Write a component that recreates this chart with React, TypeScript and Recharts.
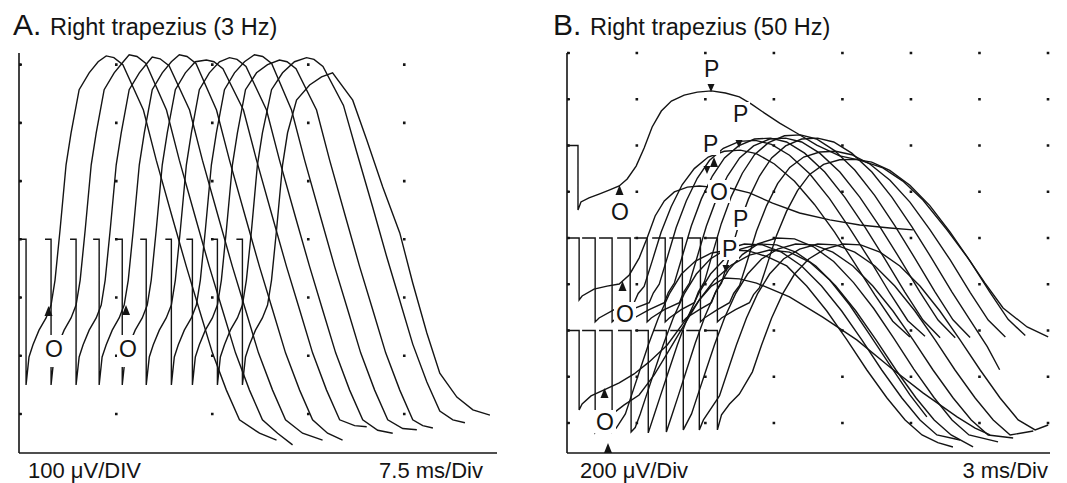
import { CartesianGrid, Line, LineChart, XAxis, YAxis } from "recharts";

type Trace = [number, number][];

// Panel A: right trapezius, 3 Hz (time in ms, amplitude in µV)
const traceA1: Trace = [[0.08,300],[0.55,300],[0.55,50],[0.78,98],[1.09,119],[1.56,144],[2.11,165],[2.5,187],[2.81,230],[3.2,316],[3.67,428],[4.06,483],[4.69,557],[5.47,586],[6.17,605],[6.8,615],[7.4,612],[8.1,600],[9.7,522],[10.7,436],[11.95,338],[13.05,253],[14.06,179],[15.08,105],[16.17,41],[17.19,-10],[18.75,-33],[20.08,-45]];
const traceA2: Trace = [[2.03,300],[2.5,300],[2.5,50],[2.73,98],[3.05,119],[3.52,144],[4.06,165],[4.45,187],[4.77,230],[5.16,316],[5.63,428],[6.02,483],[6.64,557],[7.42,586],[8.13,605],[8.59,617],[9.2,614],[9.9,602],[11.5,522],[12.5,436],[13.75,338],[14.84,253],[15.86,179],[16.88,105],[17.97,41],[18.98,-10],[20.16,-33],[21.33,-53]];
const traceA3: Trace = [[3.98,300],[4.45,300],[4.45,50],[4.69,98],[5.0,119],[5.47,144],[6.02,165],[6.41,187],[6.72,230],[7.11,316],[7.58,428],[7.97,483],[8.59,557],[9.38,586],[10.08,605],[10.39,613],[11.0,610],[11.7,598],[13.3,522],[14.3,436],[15.55,338],[16.64,253],[17.66,179],[18.67,105],[19.77,41],[20.78,-10],[22.11,-33],[23.67,-45]];
const traceA4: Trace = [[5.78,300],[6.25,300],[6.25,50],[6.48,98],[6.8,119],[7.27,144],[7.81,165],[8.2,187],[8.52,230],[8.91,316],[9.38,428],[9.77,483],[10.39,557],[11.17,586],[11.88,605],[12.5,617],[13.1,614],[13.8,602],[15.4,522],[16.41,436],[17.66,338],[18.75,253],[19.77,179],[20.78,105],[21.88,41],[22.89,-10],[24.06,-33],[25.23,-45]];
const traceA5: Trace = [[7.58,300],[8.05,300],[8.05,50],[8.28,98],[8.59,119],[9.06,144],[9.61,165],[10.0,187],[10.31,230],[10.7,316],[11.17,428],[11.56,483],[12.19,557],[12.97,586],[13.75,605],[14.61,608],[15.2,605],[15.9,593],[17.5,522],[18.52,436],[19.77,338],[20.86,253],[21.88,179],[22.89,105],[23.98,41],[25.0,-10],[26.17,-20],[27.11,-22]];
const traceA6: Trace = [[9.45,300],[9.92,300],[9.92,50],[10.16,98],[10.47,119],[10.94,144],[11.48,165],[11.88,187],[12.19,230],[12.58,316],[13.05,428],[13.44,483],[14.06,557],[14.84,586],[15.63,605],[16.41,612],[17.0,609],[17.7,597],[19.3,522],[20.31,436],[21.56,338],[22.66,253],[23.67,179],[24.69,105],[25.78,41],[26.8,-10],[27.97,-28],[29.14,-33]];
const traceA7: Trace = [[11.41,300],[11.88,300],[11.88,50],[12.11,98],[12.42,119],[12.89,144],[13.44,165],[13.83,187],[14.14,230],[14.53,316],[15.0,428],[15.39,483],[16.02,557],[16.8,586],[17.58,605],[18.36,617],[19.0,614],[19.7,602],[21.25,522],[22.27,436],[23.52,338],[24.61,253],[25.63,179],[26.64,105],[27.73,41],[28.75,-10],[29.92,-25],[31.02,-27]];
const traceA8: Trace = [[13.05,300],[13.52,300],[13.52,50],[13.75,98],[14.06,119],[14.53,144],[15.08,165],[15.47,187],[15.78,230],[16.17,316],[16.64,428],[17.03,483],[17.66,557],[18.52,586],[19.38,600],[20.31,608],[20.9,605],[21.6,593],[23.2,522],[24.22,436],[25.47,338],[26.56,253],[27.58,179],[28.59,105],[29.69,41],[30.7,-10],[31.48,-20],[32.27,-24]];
const traceA9: Trace = [[15.0,300],[15.47,300],[15.47,50],[15.7,98],[16.02,119],[16.48,144],[17.03,165],[17.42,187],[17.73,230],[18.13,316],[18.59,428],[18.98,483],[19.69,557],[20.55,586],[21.48,605],[22.42,612],[23.0,609],[23.7,597],[25.3,530],[26.33,450],[27.58,355],[28.67,270],[29.69,195],[30.7,120],[31.8,55],[32.81,5],[33.83,-10],[34.77,-15]];
const traceA10: Trace = [[16.95,300],[17.42,300],[17.42,50],[17.66,98],[17.97,119],[18.44,144],[18.98,165],[19.38,187],[19.69,230],[20.08,316],[20.55,428],[20.94,483],[21.64,539],[22.66,565],[23.59,579],[24.45,586],[26.02,539],[27.11,471],[28.36,390],[29.69,311],[30.7,225],[31.8,139],[32.81,70],[34.14,29],[35.39,7],[36.72,-2]];

// Panel B: right trapezius, 50 Hz – first sweep of each row
const traceB1: Trace = [[0,1200],[0.48,1200],[0.48,921],[0.61,956],[0.96,973],[1.4,990],[1.84,1007],[2.28,1025],[2.63,1055],[3.02,1111],[3.37,1189],[3.72,1280],[4.12,1349],[4.56,1392],[5.12,1418],[5.69,1431],[6.31,1436],[6.92,1427],[7.53,1410],[8.06,1379],[8.63,1340],[9.29,1297],[10.03,1254],[10.91,1202],[11.91,1155],[12.79,1137],[13.8,1103],[14.67,1046],[15.55,964],[16.6,835],[17.48,718],[18.26,605],[19.05,497],[20.1,415],[21.02,372]];
const traceB2: Trace = [[0,800],[0.53,800],[0.53,532],[0.66,549],[1.18,579],[1.75,592],[2.28,601],[2.72,640],[3.15,713],[3.5,800],[3.85,895],[4.25,960],[4.69,999],[5.26,1020],[5.78,1025],[6.31,1020],[7.1,1016],[7.97,995],[8.98,951],[10.16,908],[11.48,878],[12.79,856],[14.1,843],[15.11,835]];
const traceB3: Trace = [[0,400],[0.53,400],[0.53,56],[0.66,82],[1.05,117],[1.62,143],[2.28,173],[2.93,212],[3.59,264],[4.38,337],[5.12,437],[5.78,532],[6.31,592],[6.88,627],[7.53,623],[8.28,605],[9.72,545],[11.17,458],[12.66,359],[14.1,242],[15.55,130],[17.04,26],[17.83,-22],[18.48,-52]];

// Panel B: middle row sweeps
const traceM1: Trace = [[0.66,800],[1.23,800],[1.23,437],[1.4,454],[2.06,490],[2.93,520],[3.11,560],[3.37,590],[3.72,700],[4.11,825],[4.55,935],[5.03,1030],[5.56,1100],[6.17,1150],[6.87,1175],[7.57,1180],[8.27,1165],[9.06,1120],[9.94,1045],[10.81,945],[11.69,825],[12.57,690],[13.44,555],[14.23,440],[14.98,372]];
const traceM2: Trace = [[1.4,800],[1.97,800],[1.97,437],[2.15,454],[2.8,490],[3.59,520],[3.77,562],[4.03,600],[4.38,715],[4.77,845],[5.21,960],[5.69,1058],[6.22,1135],[6.83,1188],[7.53,1218],[8.23,1222],[8.93,1205],[9.72,1158],[10.6,1078],[11.47,970],[12.35,842],[13.23,705],[14.1,562],[14.89,442],[15.64,375]];
const traceM3: Trace = [[2.19,800],[2.76,800],[2.76,437],[2.93,454],[3.59,490],[4.25,520],[4.43,565],[4.69,605],[5.04,722],[5.43,852],[5.87,969],[6.35,1068],[6.88,1146],[7.49,1198],[8.19,1228],[8.89,1232],[9.59,1215],[10.38,1167],[11.26,1085],[12.13,977],[13.01,848],[13.89,709],[14.76,566],[15.55,445],[16.3,368]];
const traceM4: Trace = [[2.93,800],[3.5,800],[3.5,437],[3.68,454],[4.25,490],[4.91,520],[5.09,565],[5.35,605],[5.7,722],[6.09,852],[6.53,969],[7.01,1068],[7.54,1146],[8.15,1198],[8.85,1228],[9.55,1232],[10.25,1215],[11.04,1167],[11.92,1085],[12.79,977],[13.67,848],[14.55,709],[15.42,566],[16.21,445],[16.96,368]];
const traceM5: Trace = [[3.72,800],[4.29,800],[4.29,437],[4.47,454],[4.99,490],[5.56,520],[5.74,567],[6.0,610],[6.35,730],[6.74,862],[7.18,980],[7.66,1080],[8.19,1160],[8.8,1212],[9.5,1242],[10.2,1246],[10.9,1228],[11.69,1178],[12.57,1094],[13.44,984],[14.32,853],[15.2,712],[16.07,568],[16.86,446],[17.61,370]];
const traceM6: Trace = [[4.47,800],[5.04,800],[5.04,437],[5.21,454],[5.78,490],[6.31,520],[6.49,565],[6.75,605],[7.1,722],[7.49,852],[7.93,969],[8.41,1068],[8.94,1146],[9.55,1198],[10.25,1228],[10.95,1232],[11.65,1215],[12.44,1167],[13.32,1085],[14.19,977],[15.07,848],[15.95,709],[16.82,566],[17.61,445],[18.36,330],[18.9,230]];
const traceM7: Trace = [[5.26,800],[5.83,800],[5.83,437],[6.0,454],[6.57,490],[7.1,520],[7.28,560],[7.54,595],[7.89,705],[8.28,830],[8.72,940],[9.2,1035],[9.73,1105],[10.34,1150],[11.04,1172],[11.74,1175],[12.44,1160],[13.23,1120],[14.11,1050],[14.98,955],[15.86,835],[16.74,705],[17.61,565],[18.4,445],[19.15,372]];
const traceM8: Trace = [[6.0,800],[6.57,800],[6.57,437],[6.75,454],[7.36,490],[7.97,520],[8.15,555],[8.41,585],[8.76,690],[9.15,810],[9.59,915],[10.07,1005],[10.6,1075],[11.21,1118],[11.91,1138],[12.61,1140],[13.31,1128],[14.1,1092],[14.98,1028],[15.85,940],[16.73,826],[17.61,700],[18.48,565],[19.27,448],[20.02,378]];

// Panel B: bottom row sweeps
const traceL1: Trace = [[0.66,400],[1.23,400],[1.23,-39],[1.4,-9],[1.93,35],[2.5,78],[3.15,121],[3.81,208],[4.47,316],[5.12,424],[5.78,532],[6.44,618],[7.18,683],[7.97,726],[8.85,748],[9.72,739],[10.6,696],[11.48,618],[12.35,510],[13.23,381],[14.1,251],[14.98,121],[15.72,26]];
const traceL2: Trace = [[1.4,400],[1.97,400],[1.97,-39],[2.15,-22],[2.55,39],[2.81,117],[3.16,221],[3.55,337],[3.99,454],[4.47,558],[5.0,644],[5.61,700],[6.31,735],[7.1,748],[7.89,745],[8.72,720],[9.6,679],[10.47,592],[11.35,484],[12.23,359],[13.1,229],[13.98,108],[14.77,13],[15.51,-52],[16.2,-85],[16.86,-104]];
const traceL3: Trace = [[2.23,400],[2.8,400],[2.8,-39],[2.98,-20],[3.2,39],[3.46,117],[3.81,221],[4.2,337],[4.64,454],[5.12,558],[5.65,644],[6.26,709],[6.96,752],[7.75,774],[8.54,770],[9.37,739],[10.25,679],[11.12,592],[12.0,484],[12.88,359],[13.75,229],[14.63,108],[15.42,13],[16.16,-52],[17.17,-74]];
const traceL4: Trace = [[2.98,400],[3.55,400],[3.55,-43],[3.82,39],[4.08,117],[4.43,221],[4.82,337],[5.26,454],[5.74,558],[6.27,644],[6.88,709],[7.58,752],[8.37,774],[9.16,770],[9.99,739],[10.87,679],[11.74,592],[12.62,484],[13.5,359],[14.37,229],[15.25,108],[16.04,13],[16.78,-52],[17.74,-104]];
const traceL5: Trace = [[3.77,400],[4.34,400],[4.34,-39],[4.6,39],[4.86,117],[5.21,225],[5.6,345],[6.04,465],[6.52,572],[7.05,660],[7.66,728],[8.36,775],[9.15,800],[9.94,796],[10.77,762],[11.65,698],[12.52,607],[13.4,495],[14.28,366],[15.15,233],[16.03,110],[16.82,13],[17.56,-52],[18.83,-82]];
const traceL6: Trace = [[4.51,400],[5.08,400],[5.08,-30],[5.44,39],[5.7,117],[6.05,221],[6.44,337],[6.88,454],[7.36,558],[7.89,644],[8.5,709],[9.2,752],[9.99,774],[10.78,770],[11.61,739],[12.49,679],[13.36,592],[14.24,484],[15.12,359],[15.99,229],[16.87,108],[17.66,13],[18.4,-52],[19.49,-65]];
const traceL7: Trace = [[5.21,400],[5.78,400],[5.78,-30],[5.96,13],[6.66,117],[7.01,221],[7.4,337],[7.84,454],[8.32,558],[8.85,644],[9.46,709],[10.16,752],[10.95,774],[11.74,770],[12.57,739],[13.45,679],[14.32,592],[15.2,484],[16.08,359],[16.95,229],[17.83,108],[18.62,13],[19.36,-52],[20.37,-35]];
const traceL8: Trace = [[6.0,400],[6.57,400],[6.57,-30],[6.75,35],[7.1,82],[7.53,125],[8.1,221],[8.5,337],[8.94,454],[9.42,558],[9.94,644],[10.56,709],[11.26,752],[12.05,774],[12.83,770],[13.67,739],[14.54,679],[15.42,592],[16.29,484],[17.17,359],[18.05,229],[18.92,108],[19.71,13],[20.45,-30],[21.02,-9]];

const panelATraces = [traceA1, traceA2, traceA3, traceA4, traceA5, traceA6, traceA7, traceA8, traceA9, traceA10];
const panelBTraces = [
  traceB1, traceB2, traceB3,
  traceM1, traceM2, traceM3, traceM4, traceM5, traceM6, traceM7, traceM8,
  traceL1, traceL2, traceL3, traceL4, traceL5, traceL6, traceL7, traceL8,
];

const aVoltTicks = [0, 100, 200, 300, 400, 500, 600];
const bVoltTicks = [0, 200, 400, 600, 800, 1000, 1200, 1400, 1600];

const INK = "#141414";
const FONT = "'Liberation Sans', Arial, Helvetica, sans-serif";

const toPoints = (tr: Trace) => tr.map(([t, v]) => ({ t, v }));
const NoLabel = () => <g />;

interface PanelProps {
  traces: Trace[];
  width: number;
  margin: { top: number; right: number; bottom: number; left: number };
  xMax: number;
  yDomain: [number, number];
  yTicks: number[];
  dotGap: string;
}

function TracePanel({ traces, width, margin, xMax, yDomain, yTicks, dotGap }: PanelProps) {
  return (
    <LineChart width={width} height={483} margin={margin}>
      <CartesianGrid
        vertical={false}
        horizontalValues={yTicks}
        stroke={INK}
        strokeWidth={2.6}
        strokeDasharray={dotGap}
      />
      <XAxis
        type="number"
        dataKey="t"
        domain={[0, xMax]}
        allowDataOverflow
        height={1}
        tick={false}
        tickLine={false}
        axisLine={{ stroke: INK, strokeWidth: 1.6 }}
      />
      <YAxis
        type="number"
        domain={yDomain}
        ticks={yTicks}
        interval={0}
        allowDataOverflow
        width={1}
        mirror
        tick={NoLabel}
        tickSize={3}
        tickLine={{ stroke: INK, strokeWidth: 1.6 }}
        axisLine={{ stroke: INK, strokeWidth: 1.6 }}
      />
      {traces.map((tr, i) => (
        <Line
          key={i}
          data={toPoints(tr)}
          dataKey="v"
          type="linear"
          stroke={INK}
          strokeWidth={1.4}
          dot={false}
          activeDot={false}
          isAnimationActive={false}
        />
      ))}
    </LineChart>
  );
}

function Mark({ ch, x, y, w, box = 20 }: { ch: string; x: number; y: number; w: number; box?: number }) {
  return (
    <g>
      <rect x={x - 2} y={y - box} width={w + 4} height={box + 3} fill="#fff" />
      <text x={x} y={y} fontSize={23} fontFamily={FONT} fill={INK}>
        {ch}
      </text>
    </g>
  );
}

const up = (x: number, y: number) => `${x - 4},${y + 5} ${x + 4},${y + 5} ${x},${y - 5}`;
const down = (x: number, y: number) => `${x - 3.5},${y - 4} ${x + 3.5},${y - 4} ${x},${y + 4}`;

export default function App() {
  return (
    <div style={{ position: "absolute", left: 0, top: 0, width: 1067, height: 483, background: "#fff", overflow: "hidden" }}>
      <div style={{ position: "absolute", left: 0, top: 0 }}>
        <TracePanel
          traces={panelATraces}
          width={540}
          margin={{ top: 53, right: 43, bottom: 29, left: 19 }}
          xMax={37.27}
          yDomain={[-67, 620]}
          yTicks={aVoltTicks}
          dotGap="2.6 93.39"
        />
      </div>
      <div style={{ position: "absolute", left: 540, top: 0 }}>
        <TracePanel
          traces={panelBTraces}
          width={527}
          margin={{ top: 53, right: 17, bottom: 29, left: 27 }}
          xMax={21.1}
          yDomain={[-130, 1600]}
          yTicks={bVoltTicks}
          dotGap="2.6 65.93"
        />
      </div>
      <svg width={1067} height={483} style={{ position: "absolute", left: 0, top: 0, pointerEvents: "none" }}>
        <g fontFamily={FONT} fill={INK}>
          <text x={13} y={35} fontSize={30}>A.</text>
          <text x={50} y={35} fontSize={23.5}>Right trapezius (3 Hz)</text>
          <text x={28} y={478} fontSize={22}>100 μV/DIV</text>
          <text x={483} y={478} fontSize={22} textAnchor="end">7.5 ms/Div</text>
          <text x={553} y={35} fontSize={30}>B.</text>
          <text x={590} y={35} fontSize={23.5}>Right trapezius (50 Hz)</text>
          <text x={580} y={478} fontSize={22}>200 μV/Div</text>
          <text x={1048} y={478} fontSize={22} textAnchor="end">3 ms/Div</text>
        </g>

        <Mark ch="O" x={45} y={357} w={18} box={22} />
        <rect x={43} y={357} width={22} height={10} fill="#fff" />
        <Mark ch="O" x={119} y={357} w={18} box={22} />
        <rect x={117} y={357} width={22} height={10} fill="#fff" />
        <polygon points={up(48.5, 311)} fill={INK} />
        <polygon points={up(126, 310)} fill={INK} />

        <Mark ch="P" x={704} y={77} w={15} />
        <polygon points={down(711, 88)} fill={INK} />
        <Mark ch="P" x={733} y={122} w={15} />
        <polygon points={down(739, 144)} fill={INK} />
        <Mark ch="P" x={703} y={152} w={15} />
        <polygon points={up(714, 162)} fill={INK} />
        <polygon points={down(707, 170)} fill={INK} />
        <Mark ch="O" x={710} y={200} w={18} />
        <Mark ch="O" x={611} y={220} w={18} />
        <polygon points={up(619.5, 190)} fill={INK} />
        <Mark ch="P" x={733} y={227} w={15} />
        <Mark ch="P" x={722} y={257} w={15} />
        <polygon points={down(726, 269)} fill={INK} />
        <Mark ch="O" x={616} y={322} w={18} />
        <polygon points={up(622.5, 286)} fill={INK} />
        <Mark ch="O" x={596} y={430} w={18} />
        <polygon points={up(604.5, 393)} fill={INK} />
        <polygon points={up(608, 448)} fill={INK} />
      </svg>
    </div>
  );
}
